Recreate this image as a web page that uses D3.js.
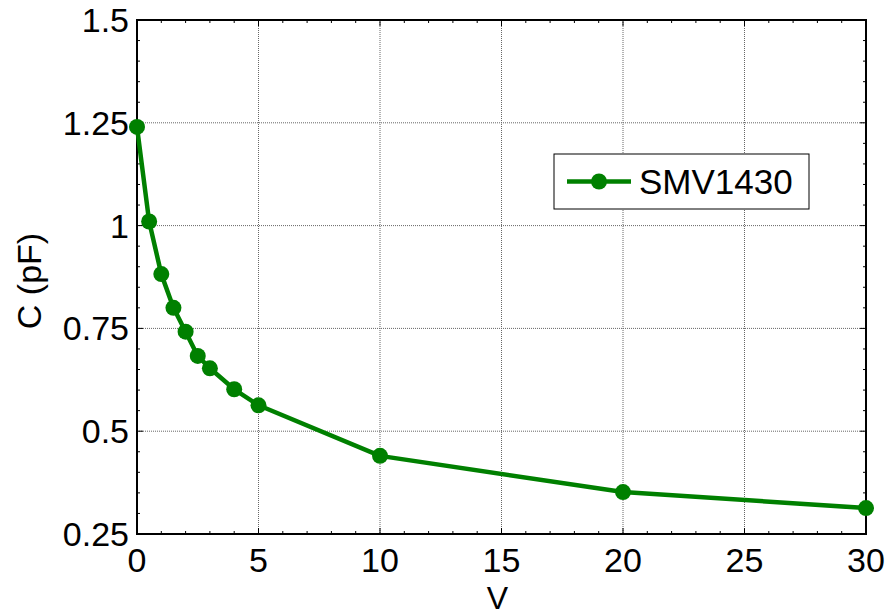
<html>
<head>
<style>
  body { margin: 0; background: #fff; }
  text { font-family: "Liberation Sans", Arial, sans-serif; fill: #000; }
</style>
</head>
<body>
<script src="https://d3js.org/d3.v7.min.js"></script>
<script>
    // data
    var volts = [0, 0.5, 1, 1.5, 2, 2.5, 3, 4, 5, 10, 20, 30];
    var cap = [1.24, 1.01, 0.882, 0.80, 0.742, 0.683, 0.653, 0.602, 0.563, 0.44, 0.352, 0.313];
    var xTicks = [0, 5, 10, 15, 20, 25, 30];
    var yTicks = [0.25, 0.5, 0.75, 1, 1.25, 1.5];
    var yTickLabels = ["0.25", "0.5", "0.75", "1", "1.25", "1.5"];
    var seriesName = "SMV1430";

    var margin = {top: 20, right: 21, bottom: 82, left: 137},
        width = 887 - margin.left - margin.right,
        height = 616 - margin.top - margin.bottom;

    var green = "#008000";

    var svg = d3.select("body").append("svg")
        .attr("width", 887)
        .attr("height", 616)
      .append("g")
        .attr("transform", "translate(" + margin.left + "," + margin.top + ")");

    var x = d3.scaleLinear().domain([0, 30]).range([0, width]);
    var y = d3.scaleLinear().domain([0.25, 1.5]).range([height, 0]);

    // grid
    svg.append("g").selectAll("line").data(xTicks.slice(1, -1)).enter().append("line")
        .attr("x1", d => x(d)).attr("x2", d => x(d))
        .attr("y1", 0).attr("y2", height)
        .attr("stroke", "#666").attr("stroke-width", 1).attr("stroke-dasharray", "1,1");
    svg.append("g").selectAll("line").data(yTicks.slice(1, -1)).enter().append("line")
        .attr("y1", d => y(d)).attr("y2", d => y(d))
        .attr("x1", 0).attr("x2", width)
        .attr("stroke", "#666").attr("stroke-width", 1).attr("stroke-dasharray", "1,1");

    // minor ticks + major ticks (inward, all sides)
    var xMinor = d3.range(0, 30.01, 1);
    var yMinor = d3.range(0.25, 1.501, 0.05);
    var ticks = svg.append("g").attr("stroke", "#000").attr("stroke-width", 1);
    xMinor.forEach(function(v) {
        var len = xTicks.indexOf(v) >= 0 ? 6 : 3;
        ticks.append("line").attr("x1", x(v)).attr("x2", x(v)).attr("y1", height).attr("y2", height - len);
        ticks.append("line").attr("x1", x(v)).attr("x2", x(v)).attr("y1", 0).attr("y2", len);
    });
    yMinor.forEach(function(v) {
        var isMaj = yTicks.some(t => Math.abs(t - v) < 1e-6);
        var len = isMaj ? 6 : 3;
        ticks.append("line").attr("y1", y(v)).attr("y2", y(v)).attr("x1", 0).attr("x2", len);
        ticks.append("line").attr("y1", y(v)).attr("y2", y(v)).attr("x1", width).attr("x2", width - len);
    });

    // frame
    svg.append("rect")
        .attr("width", width).attr("height", height)
        .attr("fill", "none").attr("stroke", "#000").attr("stroke-width", 2);

    // tick labels
    svg.append("g").selectAll("text").data(xTicks).enter().append("text")
        .attr("x", d => x(d)).attr("y", height + 38)
        .attr("text-anchor", "middle")
        .style("font-size", "34px")
        .text(d => d);
    svg.append("g").selectAll("text").data(yTicks).enter().append("text")
        .attr("x", -8).attr("y", d => y(d) + 12)
        .attr("text-anchor", "end")
        .style("font-size", "34px")
        .text((d, i) => yTickLabels[i]);

    // axis titles
    svg.append("text")
        .attr("x", width / 2 - 4).attr("y", height + 75)
        .attr("text-anchor", "middle")
        .style("font-size", "32px")
        .text("V");
    svg.append("text")
        .attr("transform", "translate(" + (-96) + "," + (height / 2 + 4) + ") rotate(-90)")
        .attr("text-anchor", "middle")
        .style("font-size", "34px")
        .text("C (pF)");

    // line + markers
    var pts = volts.map((v, i) => [v, cap[i]]);
    svg.append("path")
        .datum(pts)
        .attr("fill", "none")
        .attr("stroke", green)
        .attr("stroke-width", 4.5)
        .attr("stroke-linejoin", "round")
        .attr("d", d3.line().x(d => x(d[0])).y(d => y(d[1])));
    svg.append("g").selectAll("circle").data(pts).enter().append("circle")
        .attr("cx", d => x(d[0])).attr("cy", d => y(d[1]))
        .attr("r", 8).attr("fill", green);

    // legend
    var lg = svg.append("g").attr("transform", "translate(" + (554 - margin.left) + "," + (154 - margin.top) + ")");
    lg.append("rect").attr("width", 255).attr("height", 55)
        .attr("fill", "#fff").attr("stroke", "#000").attr("stroke-width", 1);
    lg.append("line").attr("x1", 13).attr("x2", 77).attr("y1", 27.5).attr("y2", 27.5)
        .attr("stroke", green).attr("stroke-width", 4.5);
    lg.append("circle").attr("cx", 45).attr("cy", 27.5).attr("r", 8).attr("fill", green);
    lg.append("text").attr("x", 85).attr("y", 40)
        .style("font-size", "35px")
        .text(seriesName);
</script>
</body>
</html>
